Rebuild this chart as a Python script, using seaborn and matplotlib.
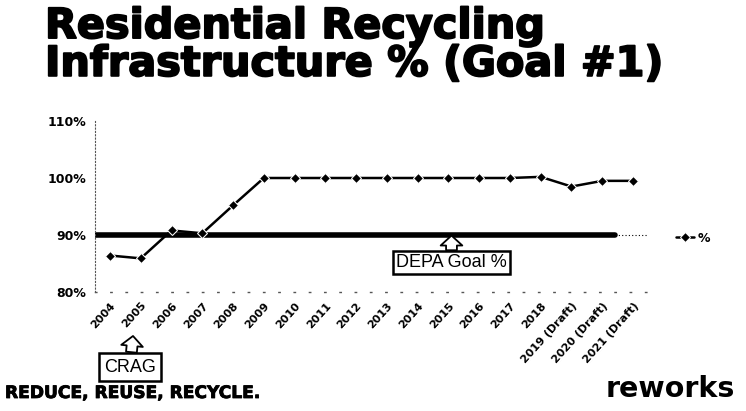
import numpy as np
import pandas as pd
import matplotlib
matplotlib.use("Agg")
import matplotlib.pyplot as plt
import matplotlib.patheffects as pe
import seaborn as sns

# Données
years = ["2004", "2005", "2006", "2007", "2008", "2009", "2010", "2011", "2012",
         "2013", "2014", "2015", "2016", "2017", "2018",
         "2019 (Draft)", "2020 (Draft)", "2021 (Draft)"]
pct = [86.4, 85.9, 90.8, 90.3, 95.2, 100.0, 100.0, 100.0, 100.0,
       100.0, 100.0, 100.0, 100.0, 100.0, 100.2, 98.5, 99.5, 99.5]
goal = 90.0
y_ticks = [80, 90, 100, 110]

df = pd.DataFrame({"year": years, "pct": pct, "serie": "%"})

sns.set_style("white")
plt.rcParams["font.family"] = ["DejaVu Sans"]
for k in ["text.color", "axes.labelcolor", "xtick.color", "ytick.color"]:
    plt.rcParams[k] = "black"

fig = plt.figure(figsize=(7.46, 4.11), dpi=100)
ax = fig.add_axes([94.6 / 746, 1 - 292 / 411, (648.4 - 94.6) / 746, (292 - 121) / 411])

# ligne objectif (épaisse puis pointillée)
ax.axhline(goal, xmin=0, xmax=0.94, color="black", lw=4, zorder=2)
ax.axhline(goal, xmin=0.94, xmax=1, color="black", lw=0.8, ls=(0, (1, 2)), zorder=2)

sns.lineplot(data=df, x="year", y="pct", hue="serie", palette=["black"], sort=False,
             marker="D", markersize=5, lw=1.8, ax=ax, zorder=3)

ax.set_ylim(80, 110)
ax.set_xlim(-0.5, len(years) - 0.5)
ax.set_yticks(y_ticks)
ax.set_yticklabels([f"{t}%" for t in y_ticks], fontsize=9, fontweight="bold")
ax.set_xticks(range(len(years)))
ax.set_xticklabels(years, rotation=48, ha="right", rotation_mode="anchor",
                   fontsize=8, fontweight="bold")
ax.tick_params(axis="both", length=0, pad=6)
ax.set_xlabel("")
ax.set_ylabel("")
for s in ["top", "right"]:
    ax.spines[s].set_visible(False)
ax.spines["left"].set_linestyle((0, (1, 2)))
ax.spines["left"].set_color("#555555")
ax.spines["left"].set_linewidth(0.8)
ax.spines["bottom"].set_linestyle((0, (1, 10)))
ax.spines["bottom"].set_color("#555555")
ax.spines["bottom"].set_linewidth(1)

leg = ax.legend(loc="center left", bbox_to_anchor=(665 / 746, 1 - 238 / 411),
                bbox_transform=fig.transFigure, frameon=False, handlelength=1.4,
                handletextpad=0.3, prop={"weight": "bold", "size": 9})

arrow = dict(arrowstyle="simple,head_width=1.2,head_length=0.55,tail_width=0.6",
             fc="white", ec="black", lw=1.3, shrinkA=0, shrinkB=0)

ax.annotate("DEPA Goal %", xy=(11.1, 89.9), xytext=(11.1, 85.2),
            ha="center", va="center", fontsize=13, family="Liberation Sans",
            bbox=dict(boxstyle="square,pad=0.15", fc="white", ec="black", lw=1.8),
            arrowprops=arrow, zorder=5)
ax.annotate("CRAG", xy=(133 / 746, 1 - 336 / 411), xycoords="figure fraction",
            xytext=(130 / 746, 1 - 367 / 411), textcoords="figure fraction",
            ha="center", va="center", fontsize=13, family="Liberation Sans",
            bbox=dict(boxstyle="square,pad=0.3", fc="white", ec="black", lw=1.8),
            arrowprops=arrow, annotation_clip=False)

thick = [pe.withStroke(linewidth=1.4, foreground="black")]
fig.text(45 / 746, 1 - 7 / 411, "Residential Recycling\nInfrastructure % (Goal #1)",
         ha="left", va="top", fontsize=29.8, fontweight="heavy", linespacing=0.93,
         path_effects=thick)
fig.text(5 / 746, 1 - 393 / 411, "REDUCE, REUSE, RECYCLE.", ha="left", va="center",
         fontsize=12.3, fontweight="heavy", path_effects=[pe.withStroke(linewidth=0.6, foreground="black")])
fig.text(735 / 746, 1 - 389 / 411, "reworks", ha="right", va="center",
         fontsize=20.5, fontweight="bold")

fig.savefig("out.png", dpi=100)
